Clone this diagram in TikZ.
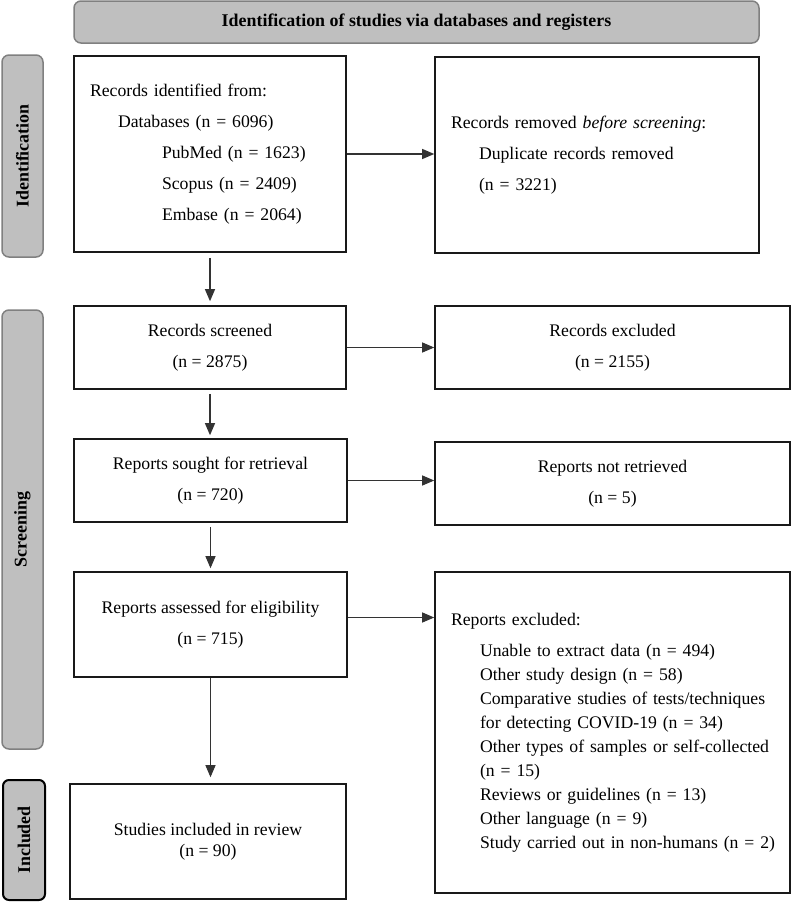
\documentclass[tikz,border=0pt]{standalone}
\usepackage{fontspec}
\setmainfont{Liberation Serif}
\usetikzlibrary{arrows.meta}

\definecolor{labelgray}{RGB}{191,191,191}
\definecolor{edgegray}{RGB}{128,128,128}

\begin{document}
\begin{tikzpicture}[
  x=1pt, y=-1pt,
  every node/.style = {font=\fontsize{17.7}{31}\selectfont, inner sep=0pt},
  box/.style = {shape=rectangle, draw=black!90, line width=1.6pt, align=center},
  listbox/.style = {box, align=left, inner xsep=16pt},
  phase/.style = {shape=rectangle, rounded corners=7pt, fill=labelgray, draw=edgegray,
                  line width=1.5pt, font=\fontsize{17.9}{22}\selectfont\bfseries},
  flow/.style = {draw=black!80, line width=1.1pt, -{Triangle[length=12pt,width=10pt]}}
]
  \useasboundingbox (0,0) rectangle (791,902);

  % phase labels
  \node[phase, minimum width=685pt, minimum height=42pt] (banner) at (416.5,22)
    {Identification of studies via databases and registers};
  \node[phase, rotate=90, minimum width=202pt, minimum height=41pt] (identlab) at (22.5,156) {Identification};
  \node[phase, rotate=90, minimum width=439pt, minimum height=41pt] (screenlab) at (22.5,529.5) {Screening};
  \node[phase, rotate=90, draw=black, line width=2pt, rounded corners=6pt,
        minimum width=120pt, minimum height=42pt] (incllab) at (24,840) {Included};

  % boxes
  \node[listbox, text width=240pt, minimum height=196pt] (ident) at (210,154)
    {Records identified from:\\
     \hspace*{28pt}Databases (n = 6096)\\
     \hspace*{72pt}PubMed (n = 1623)\\
     \hspace*{72pt}Scopus (n = 2409)\\
     \hspace*{72pt}Embase (n = 2064)};
  \node[listbox, text width=292pt, minimum height=196pt] (removed) at (597,155)
    {Records removed \textit{before screening}:\\
     \hspace*{28pt}Duplicate records removed\\
     \hspace*{28pt}(n = 3221)};
  \node[box, minimum width=272pt, minimum height=83pt] (screened) at (210,347.5)
    {Records screened\\(n = 2875)};
  \node[box, minimum width=355pt, minimum height=83pt] (excluded) at (612.5,347.5)
    {Records excluded\\(n = 2155)};
  \node[box, minimum width=273pt, minimum height=83pt] (sought) at (210.5,480.5)
    {Reports sought for retrieval\\(n = 720)};
  \node[box, minimum width=355pt, minimum height=83pt] (notretrieved) at (612.5,483.5)
    {Reports not retrieved\\(n = 5)};
  \node[box, minimum width=273pt, minimum height=105pt] (assessed) at (210.5,624.5)
    {Reports assessed for eligibility\\(n = 715)};
  \node[listbox, text width=323pt, minimum height=321pt, font=\fontsize{17.7}{24}\selectfont] (reportsexcl) at (612.5,732.5)
    {Reports excluded:\\[7pt]
     \hspace*{29pt}\mbox{Unable to extract data (n = 494)}\\
     \hspace*{29pt}\mbox{Other study design (n = 58)}\\
     \hspace*{29pt}\mbox{Comparative studies of tests/techniques}\\
     \hspace*{29pt}\mbox{for detecting COVID-19 (n = 34)}\\
     \hspace*{29pt}\mbox{Other types of samples or self-collected}\\
     \hspace*{29pt}(n = 15)\\
     \hspace*{29pt}\mbox{Reviews or guidelines (n = 13)}\\
     \hspace*{29pt}\mbox{Other language (n = 9)}\\
     \hspace*{29pt}\mbox{Study carried out in non-humans (n = 2)}};
  \node[box, minimum width=276pt, minimum height=115pt, font=\fontsize{17.7}{21}\selectfont] (included) at (208,841.5)
    {Studies included in review\\(n = 90)};

  % arrows
  \coordinate (side) at ([yshift=7pt]assessed.east);
  \draw[flow] (ident.east) -- (ident.east -| removed.west);
  \draw[flow] (screened.east) -- (screened.east -| excluded.west);
  \draw[flow] (sought.east) -- (sought.east -| notretrieved.west);
  \draw[flow] (side) -- (side -| reportsexcl.west);
  \draw[flow, shorten <=5pt, shorten >=4pt] (ident.south) -- (screened.north);
  \draw[flow, shorten <=4pt, shorten >=3pt] (screened.south) -- (screened.south |- sought.north);
  \draw[flow, shorten <=4pt, shorten >=3pt] (sought.south) -- (sought.south |- assessed.north);
  \draw[flow, shorten >=6pt] (assessed.south) -- (assessed.south |- included.north);
\end{tikzpicture}
\end{document}
